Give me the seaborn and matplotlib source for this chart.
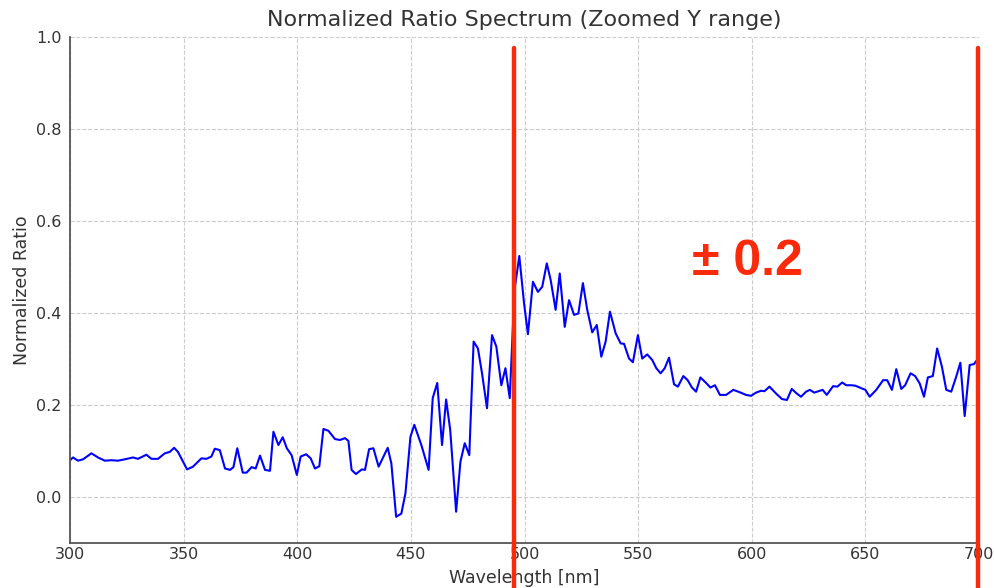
import matplotlib
matplotlib.use("Agg")
import matplotlib.pyplot as plt
import seaborn as sns
import pandas as pd

# Wavelength samples [nm]
wavelength = [
    300.0, 301.3, 303.5, 305.7, 309.4, 312.3, 315.3, 318.2, 321.1, 324.1,
    327.7, 329.9, 333.6, 335.8, 338.7, 341.7, 343.9, 345.8, 347.5, 351.5,
    354.1, 357.8, 360.0, 362.2, 363.7, 365.9, 368.2, 370.4, 371.9, 373.6,
    376.0, 377.7, 379.9, 381.7, 383.6, 385.8, 388.0, 389.5, 391.7, 393.6,
    395.4, 397.5, 399.8, 401.5, 403.9, 405.9, 407.8, 409.7, 411.5, 413.7,
    416.6, 418.8, 421.0, 422.5, 423.9, 425.8, 428.4, 429.8, 431.6, 433.5,
    435.8, 439.8, 441.4, 443.5, 445.8, 447.6, 449.8, 451.5, 454.6, 457.8,
    459.6, 461.6, 463.7, 465.5, 467.3, 469.9, 471.8, 473.7, 475.7, 477.6,
    479.5, 481.3, 483.5, 485.7, 487.6, 489.8, 491.6, 493.5, 495.6, 497.7,
    499.8, 501.5, 503.7, 505.9, 507.8, 509.8, 511.5, 513.7, 515.5, 517.7,
    519.6, 521.8, 523.7, 525.7, 527.6, 529.8, 531.8, 533.8, 535.7, 537.6,
    540.1, 542.3, 543.8, 546.0, 547.7, 549.9, 551.8, 554.0, 556.2, 558.0,
    559.9, 561.7, 563.6, 565.8, 567.5, 569.9, 571.8, 573.7, 575.5, 577.4,
    579.9, 581.8, 583.8, 586.0, 588.7, 591.9, 594.6, 597.5, 599.7, 601.9,
    604.1, 605.6, 607.8, 610.7, 613.3, 615.5, 617.6, 619.8, 621.7, 623.9,
    625.6, 627.5, 631.2, 633.0, 635.8, 637.7, 639.8, 641.6, 643.8, 645.6,
    647.5, 650.0, 651.9, 654.8, 657.8, 659.6, 661.7, 663.6, 665.8, 667.5,
    669.9, 671.9, 673.9, 675.8, 677.5, 679.7, 681.6, 683.7, 685.6, 687.8,
    690.0, 691.8, 693.7, 695.9, 697.8, 699.3,
]

# Normalized ratio at each wavelength
ratio = [
    0.080, 0.086, 0.079, 0.082, 0.095, 0.086, 0.079, 0.080, 0.079, 0.082,
    0.086, 0.083, 0.092, 0.083, 0.083, 0.095, 0.098, 0.107, 0.098, 0.060,
    0.066, 0.084, 0.083, 0.088, 0.105, 0.102, 0.062, 0.059, 0.065, 0.106,
    0.053, 0.053, 0.065, 0.062, 0.090, 0.059, 0.057, 0.142, 0.113, 0.130,
    0.106, 0.091, 0.048, 0.088, 0.093, 0.084, 0.062, 0.067, 0.148, 0.144,
    0.126, 0.124, 0.128, 0.122, 0.059, 0.050, 0.060, 0.059, 0.104, 0.106,
    0.066, 0.107, 0.073, -0.043, -0.036, 0.008, 0.131, 0.157, 0.113, 0.059,
    0.215, 0.248, 0.113, 0.212, 0.146, -0.032, 0.077, 0.117, 0.091, 0.338,
    0.323, 0.269, 0.193, 0.352, 0.327, 0.243, 0.280, 0.215, 0.450, 0.524,
    0.421, 0.354, 0.468, 0.446, 0.457, 0.508, 0.472, 0.407, 0.486, 0.370,
    0.428, 0.396, 0.399, 0.465, 0.407, 0.358, 0.374, 0.305, 0.338, 0.403,
    0.356, 0.334, 0.333, 0.301, 0.293, 0.352, 0.301, 0.310, 0.298, 0.280,
    0.269, 0.280, 0.303, 0.245, 0.240, 0.263, 0.254, 0.238, 0.229, 0.260,
    0.248, 0.238, 0.243, 0.222, 0.222, 0.233, 0.228, 0.222, 0.220, 0.227,
    0.231, 0.230, 0.240, 0.225, 0.213, 0.211, 0.235, 0.225, 0.218, 0.229,
    0.233, 0.227, 0.233, 0.222, 0.241, 0.240, 0.249, 0.243, 0.243, 0.242,
    0.238, 0.233, 0.218, 0.233, 0.254, 0.254, 0.233, 0.278, 0.235, 0.243,
    0.269, 0.263, 0.247, 0.218, 0.260, 0.263, 0.323, 0.283, 0.233, 0.229,
    0.262, 0.292, 0.176, 0.287, 0.289, 0.299,
]

x_ticks = [300, 350, 400, 450, 500, 550, 600, 650, 700]
y_ticks = [0.0, 0.2, 0.4, 0.6, 0.8, 1.0]
band_edges = [495.4, 699.6]
band_label = "± 0.2"

df = pd.DataFrame({"Wavelength": wavelength, "Ratio": ratio})

sns.set_theme(style="whitegrid")
plt.rcParams["font.family"] = ["DejaVu Sans"]

fig = plt.figure(figsize=(9.95, 5.88), dpi=100)
ax = fig.add_axes([0.0704, 0.0765, 0.9135, 0.8605])

sns.lineplot(data=df, x="Wavelength", y="Ratio", ax=ax, color="#0000ff",
             linewidth=1.5, sort=True)

ax.set_xlim(300, 700)
ax.set_ylim(-0.1, 1.0)
ax.set_xticks(x_ticks)
ax.set_yticks(y_ticks)
ax.set_xticklabels([str(t) for t in x_ticks])
ax.set_yticklabels([f"{t:.1f}" for t in y_ticks])

ax.grid(True, linestyle="--", color="#cccccc", linewidth=0.8)
ax.set_facecolor("white")
for side in ("top", "right"):
    ax.spines[side].set_visible(False)
for side in ("left", "bottom"):
    ax.spines[side].set_visible(True)
    ax.spines[side].set_color("#555555")
    ax.spines[side].set_linewidth(1.3)

ax.tick_params(axis="both", direction="in", length=4, width=1,
               colors="#555555", labelcolor="#333333", labelsize=11.5)
ax.tick_params(axis="x", pad=3)
ax.tick_params(axis="y", pad=6)

ax.set_title("Normalized Ratio Spectrum (Zoomed Y range)", fontsize=16,
             color="#333333", pad=8)
ax.set_xlabel("Wavelength [nm]", fontsize=12.5, color="#333333", labelpad=5)
ax.set_ylabel("Normalized Ratio", fontsize=12.5, color="#333333", labelpad=4)

# Red band markers extending past the plot area
for xv in band_edges:
    ax.axvline(xv, ymin=-0.09, ymax=0.978, color="#fa2a0a", linewidth=3.2,
               clip_on=False, zorder=5)

ax.text(0.745, 0.556, band_label, transform=ax.transAxes, color="#fa2a0a",
        fontsize=36, fontweight="bold", family=["Liberation Sans", "DejaVu Sans"],
        ha="center", va="center")

fig.savefig("out.png", dpi=100, facecolor="white")
